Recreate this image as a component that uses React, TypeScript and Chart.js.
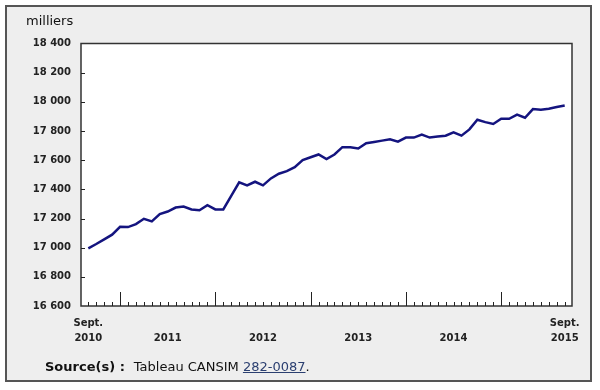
import React, { useEffect, useRef } from "react";
import { Chart, registerables } from "chart.js";

Chart.register(...registerables);

const months: string[] = [
  "2010-09", "2010-10", "2010-11", "2010-12",
  "2011-01", "2011-02", "2011-03", "2011-04", "2011-05", "2011-06", "2011-07", "2011-08", "2011-09", "2011-10", "2011-11", "2011-12",
  "2012-01", "2012-02", "2012-03", "2012-04", "2012-05", "2012-06", "2012-07", "2012-08", "2012-09", "2012-10", "2012-11", "2012-12",
  "2013-01", "2013-02", "2013-03", "2013-04", "2013-05", "2013-06", "2013-07", "2013-08", "2013-09", "2013-10", "2013-11", "2013-12",
  "2014-01", "2014-02", "2014-03", "2014-04", "2014-05", "2014-06", "2014-07", "2014-08", "2014-09", "2014-10", "2014-11", "2014-12",
  "2015-01", "2015-02", "2015-03", "2015-04", "2015-05", "2015-06", "2015-07", "2015-08", "2015-09",
];

const employment: number[] = [
  16995, 17025, 17057, 17089,
  17143, 17141, 17162, 17198, 17180, 17230, 17248, 17275, 17282, 17262, 17257, 17291,
  17262, 17262, 17355, 17448, 17427, 17452, 17427, 17475, 17507, 17525, 17552, 17600,
  17620, 17639, 17607, 17639, 17689, 17689, 17680, 17716, 17725, 17734, 17743, 17727,
  17755, 17755, 17775, 17755, 17762, 17768, 17791, 17768, 17811, 17877, 17861, 17848,
  17884, 17884, 17912, 17891, 17950, 17946, 17952, 17964, 17975,
];

const xLabelPositions: number[] = [0, 10, 22, 34, 46, 60];
const xLabels: string[][] = [
  ["Sept.", "2010"],
  ["", "2011"],
  ["", "2012"],
  ["", "2013"],
  ["", "2014"],
  ["Sept.", "2015"],
];

const yMin = 16600;
const yMax = 18400;
const yStep = 200;

const FONT = "'DejaVu Sans', Verdana, sans-serif";

function formatThousands(v: number): string {
  const s = String(Math.round(v));
  return s.replace(/\B(?=(\d{3})+(?!\d))/g, " ");
}

const framePlugin = {
  id: "framePlugin",
  beforeDraw(chart: any) {
    const { ctx, chartArea } = chart;
    ctx.save();
    ctx.fillStyle = "#ffffff";
    ctx.fillRect(chartArea.left, chartArea.top, chartArea.right - chartArea.left, chartArea.bottom - chartArea.top);
    ctx.restore();
  },
  afterDraw(chart: any) {
    const { ctx, chartArea, scales } = chart;
    const xs = scales.x;
    const ys = scales.y;
    ctx.save();
    ctx.strokeStyle = "#333333";
    ctx.lineWidth = 1.5;
    ctx.strokeRect(chartArea.left, chartArea.top, chartArea.right - chartArea.left, chartArea.bottom - chartArea.top);
    ctx.lineWidth = 1;
    ctx.strokeStyle = "#222222";
    ctx.beginPath();
    months.forEach((m, i) => {
      const x = Math.round(xs.getPixelForValue(i)) + 0.5;
      const len = m.endsWith("-01") ? 14 : 4;
      ctx.moveTo(x, chartArea.bottom);
      ctx.lineTo(x, chartArea.bottom - len);
    });
    for (let v = yMin + yStep; v < yMax; v += yStep) {
      const y = Math.round(ys.getPixelForValue(v)) + 0.5;
      ctx.moveTo(chartArea.left, y);
      ctx.lineTo(chartArea.left + 4, y);
    }
    ctx.stroke();
    ctx.restore();
  },
};

export default function App() {
  const canvasRef = useRef<HTMLCanvasElement | null>(null);

  useEffect(() => {
    document.body.style.margin = "0";
    const canvas = canvasRef.current;
    if (!canvas) return;
    const chart = new Chart(canvas, {
      type: "line",
      data: {
        labels: months,
        datasets: [
          {
            label: "milliers",
            data: employment.map((v, i) => ({ x: i, y: v })),
            borderColor: "#14147f",
            borderWidth: 2.5,
            pointRadius: 0,
            tension: 0,
            fill: false,
          },
        ],
      },
      options: {
        responsive: false,
        animation: false,
        devicePixelRatio: 1,
        layout: { padding: { left: 0, right: 28, top: 43.5, bottom: 0 } },
        plugins: {
          legend: { display: false },
          tooltip: { enabled: false },
          title: { display: false },
        },
        scales: {
          x: {
            type: "linear",
            min: -0.92,
            max: 60.92,
            afterFit: (scale: any) => {
              scale.height = 84;
            },
            afterBuildTicks: (scale: any) => {
              scale.ticks = xLabelPositions.map((v) => ({ value: v }));
            },
            grid: { display: false, drawTicks: false },
            border: { display: false },
            ticks: {
              autoSkip: false,
              maxRotation: 0,
              minRotation: 0,
              padding: 10,
              color: "#222222",
              font: { family: FONT, size: 10, weight: "bold", lineHeight: 1.5 },
              callback: (value: any) => {
                const idx = xLabelPositions.indexOf(Number(value));
                return idx >= 0 ? xLabels[idx] : "";
              },
            },
          },
          y: {
            type: "linear",
            min: yMin,
            max: yMax,
            afterFit: (scale: any) => {
              scale.width = 81;
            },
            grid: { display: false, drawTicks: false },
            border: { display: false },
            ticks: {
              stepSize: yStep,
              padding: 10,
              color: "#222222",
              font: { family: FONT, size: 10, weight: "bold" },
              callback: (value: any) => formatThousands(Number(value)),
            },
          },
        },
      },
      plugins: [framePlugin],
    } as any);
    return () => chart.destroy();
  }, []);

  return (
    <div style={{ position: "relative", width: 600, height: 390, background: "#ffffff", overflow: "hidden" }}>
      <div
        style={{
          position: "absolute",
          left: 5,
          top: 5,
          width: 587,
          height: 377,
          boxSizing: "border-box",
          border: "2px solid #555555",
          background: "#eeeeee",
        }}
      />
      <canvas ref={canvasRef} width={600} height={390} style={{ position: "absolute", left: 0, top: 0, width: 600, height: 390 }} />
      <div
        style={{
          position: "absolute",
          left: 26,
          top: 13,
          fontFamily: FONT,
          fontSize: 13,
          lineHeight: "16px",
          color: "#111111",
          whiteSpace: "nowrap",
        }}
      >
        milliers
      </div>
      <div
        style={{
          position: "absolute",
          left: 45,
          top: 359,
          fontFamily: FONT,
          fontSize: 13,
          lineHeight: "16px",
          color: "#111111",
          whiteSpace: "nowrap",
        }}
      >
        <b>Source(s)&nbsp;:</b>
        <span style={{ marginLeft: 9 }}>Tableau CANSIM </span>
        <a href="#" style={{ color: "#2b3f70", textDecoration: "underline" }}>282-0087</a>.
      </div>
    </div>
  );
}
